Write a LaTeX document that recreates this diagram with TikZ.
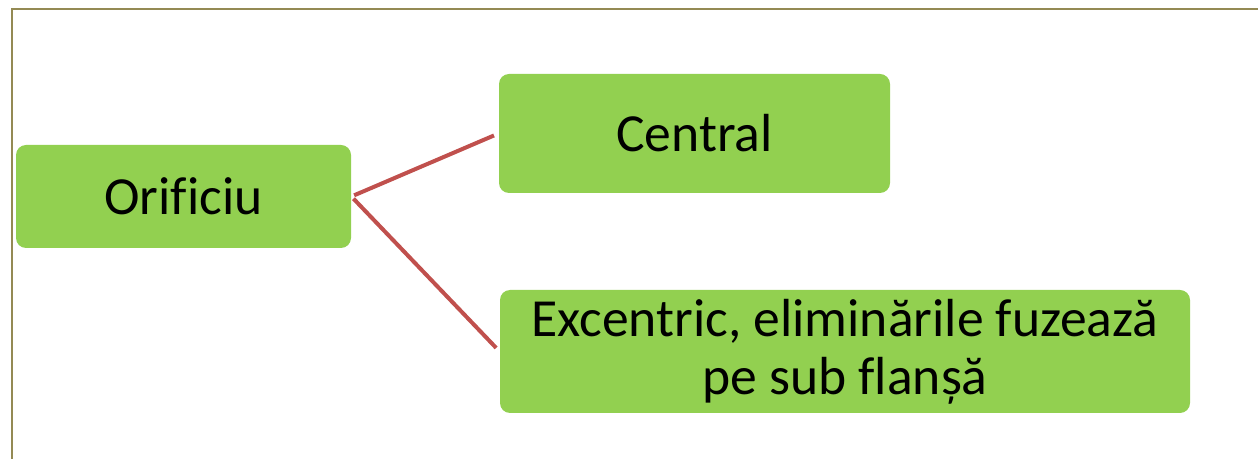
\documentclass[tikz,border=0pt]{standalone}
\usepackage{fontspec}
\setmainfont[Ligatures=NoCommon]{Carlito}
\usepackage{tikz}

\definecolor{boxgreen}{HTML}{92D050}
\definecolor{linkred}{HTML}{C0504D}
\definecolor{frameolive}{HTML}{948A54}

\tikzset{
    greenbox/.style={fill=boxgreen, rounded corners=5pt, align=center,
        font=\fontsize{26.8}{29}\selectfont, inner sep=0pt},
    link/.style={draw=linkred, line width=2pt}
}

\begin{document}
\begin{tikzpicture}[x=0.5pt, y=-0.5pt]
    \useasboundingbox (0, 0) rectangle (1258, 459);
    \draw[frameolive, line width=1pt] (12, 459) -- (12, 9) -- (1258, 9);

    \node[greenbox, minimum width=167.5pt, minimum height=51.5pt] (orif) at (183.5, 196.5) {Orificiu};
    \node[greenbox, minimum width=195.5pt, minimum height=59.5pt] (central) at (694.5, 133.5) {Central};
    \node[greenbox, minimum width=345pt, minimum height=61.5pt] (excentric) at (845, 351.5)
        {Excentric, eliminările fuzează\\pe sub flanșă};

    \draw[link, shorten <=1.5pt, shorten >=2.5pt] (orif.east) -- (central.west);
    \draw[link, shorten <=1.5pt, shorten >=2.5pt] (orif.east) -- (excentric.west);
\end{tikzpicture}
\end{document}
